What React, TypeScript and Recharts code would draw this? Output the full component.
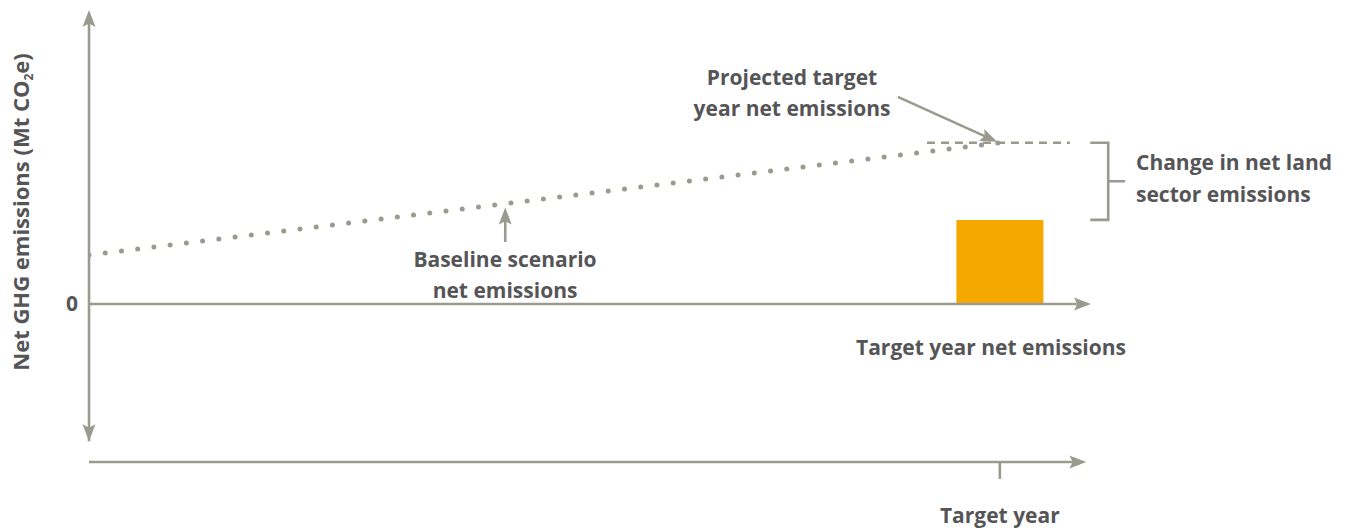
import React from "react";
import {
  Bar,
  ComposedChart,
  Line,
  ReferenceLine,
  XAxis,
  YAxis,
} from "recharts";

// conceptual chart: values are in arbitrary units
const years = [0, 10];
const baselineValues = [1.55, 5.1];
const targetValues = [null, 2.66];
const projectedYears = [9.2, 10.77];
const projectedValues = [5.1, 5.1];
const xTicks = [10];
const xTickLabels = ["Target year"];
const yTicks = [0];

const data = years.map((year, i) => ({
  year,
  baseline: baselineValues[i],
  target: targetValues[i],
}));

const GRAY = "#9a9a8e";
const TEXT = "#555557";
const ORANGE = "#f5a800";
const FONT = "'Open Sans', sans-serif";

function head(x: number, y: number, ang: number) {
  const len = 17;
  const half = 6.5;
  const cx = Math.cos(ang);
  const sy = Math.sin(ang);
  const bx = x - len * cx;
  const by = y - len * sy;
  const nx = x - len * 0.8 * cx;
  const ny = y - len * 0.8 * sy;
  const px = -sy * half;
  const py = cx * half;
  return `${x},${y} ${bx + px},${by + py} ${nx},${ny} ${bx - px},${by - py}`;
}

const arrowShape = (both: boolean) => (props: any) => {
  const { x1, y1, x2, y2 } = props;
  const ang = Math.atan2(y2 - y1, x2 - x1);
  return (
    <g>
      <line x1={x1} y1={y1} x2={x2 - 10 * Math.cos(ang)} y2={y2 - 10 * Math.sin(ang)} stroke={GRAY} strokeWidth={2.6} />
      <polygon points={head(x2, y2, ang)} fill={GRAY} />
      {both && <polygon points={head(x1, y1, ang + Math.PI)} fill={GRAY} />}
    </g>
  );
};

const bracketShape = (props: any) => {
  const { x1, y1, y2 } = props;
  const top = Math.min(y1, y2);
  const bot = Math.max(y1, y2);
  const mid = (top + bot) / 2;
  return (
    <path
      d={`M${x1 - 18},${top} H${x1} V${bot} H${x1 - 18} M${x1},${mid} H${x1 + 17}`}
      fill="none"
      stroke={GRAY}
      strokeWidth={2.6}
    />
  );
};

const txt = { fontFamily: FONT, fontWeight: 700, fontSize: 21, fill: TEXT };

export default function App() {
  return (
    <div style={{ position: "absolute", left: 0, top: 0 }}>
      <ComposedChart
        width={1358}
        height={531}
        data={data}
        margin={{ top: 10, right: 176, bottom: 0, left: 0 }}
        style={{ fontFamily: FONT }}
      >
        <XAxis
          dataKey="year"
          type="number"
          domain={[0, 12]}
          allowDataOverflow
          ticks={xTicks}
          height={69}
          axisLine={false}
          tickSize={17}
          tickLine={{ stroke: GRAY, strokeWidth: 2.6 }}
          tick={(p: any) => (
            <text x={p.x} y={p.y} dy={42} textAnchor="middle" style={txt}>
              {xTickLabels[xTicks.indexOf(p.payload.value)]}
            </text>
          )}
        />
        <YAxis
          type="number"
          domain={[-5, 9.3]}
          allowDataOverflow
          ticks={yTicks}
          width={89}
          axisLine={false}
          tickLine={false}
          tick={(p: any) => (
            <text x={78} y={p.y} dy={7.5} textAnchor="end" style={txt}>
              {p.payload.value}
            </text>
          )}
        />

        {/* axes drawn as arrows */}
        <ReferenceLine segment={[{ x: 0, y: -4.34 }, { x: 0, y: 9.3 }]} shape={arrowShape(true)} />
        <ReferenceLine segment={[{ x: 0, y: 0 }, { x: 11, y: 0 }]} shape={arrowShape(false)} />
        <ReferenceLine segment={[{ x: 0, y: -5 }, { x: 10.95, y: -5 }]} shape={arrowShape(false)} />

        <Bar dataKey="target" fill={ORANGE} barSize={87} isAnimationActive={false} />
        <Line
          dataKey="baseline"
          stroke={GRAY}
          strokeWidth={5}
          strokeLinecap="round"
          strokeDasharray="0 16.35"
          dot={false}
          activeDot={false}
          isAnimationActive={false}
        />
        {/* projected target-year level */}
        <ReferenceLine
          segment={projectedYears.map((x, i) => ({ x, y: projectedValues[i] }))}
          stroke={GRAY}
          strokeWidth={2.6}
          strokeDasharray="8 6"
        />

        {/* annotation arrows and bracket */}
        <ReferenceLine segment={[{ x: 4.57, y: 1.96 }, { x: 4.57, y: 3.05 }]} shape={arrowShape(false)} />
        <ReferenceLine segment={[{ x: 8.88, y: 6.55 }, { x: 9.97, y: 5.13 }]} shape={arrowShape(false)} />
        <ReferenceLine segment={[{ x: 11.19, y: 5.1 }, { x: 11.19, y: 2.66 }]} shape={bracketShape} />

        <text x={29} y={212} transform="rotate(-90 29 212)" textAnchor="middle" style={{ ...txt, fontSize: 22 }}>
          Net GHG emissions (Mt CO
          <tspan dy={4} fontSize={12}>2</tspan>
          <tspan dy={-4}>e)</tspan>
        </text>
        <text x={792} y={85} textAnchor="middle" style={txt}>Projected target</text>
        <text x={792} y={116} textAnchor="middle" style={txt}>year net emissions</text>
        <text x={505} y={267} textAnchor="middle" style={txt}>Baseline scenario</text>
        <text x={505} y={298} textAnchor="middle" style={txt}>net emissions</text>
        <text x={991} y={355} textAnchor="middle" style={txt}>Target year net emissions</text>
        <text x={1136} y={170} style={txt}>Change in net land</text>
        <text x={1136} y={202} style={txt}>sector emissions</text>
      </ComposedChart>
    </div>
  );
}
